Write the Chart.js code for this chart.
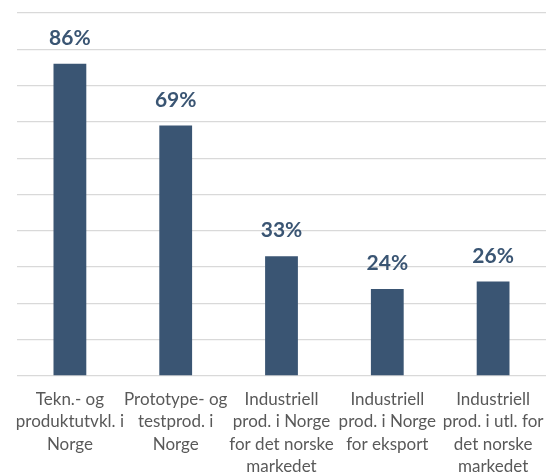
<!DOCTYPE html>
<html>
<head>
<meta charset="utf-8">
<script src="https://cdn.jsdelivr.net/npm/chart.js@4/dist/chart.umd.min.js"></script>
<style>
  html, body { margin: 0; padding: 0; background: #ffffff; }
  #wrap { width: 548px; height: 475px; }
</style>
</head>
<body>
<div id="wrap"><canvas id="c" width="548" height="475"></canvas></div>
<script>
// Categories, one array of lines per bar label
const categories = [
  ['Tekn.- og', 'produktutvkl. i', 'Norge'],
  ['Prototype- og', 'testprod. i', 'Norge'],
  ['Industriell', 'prod. i Norge', 'for det norske', 'markedet'],
  ['Industriell', 'prod. i Norge', 'for eksport'],
  ['Industriell', 'prod. i utl. for', 'det norske', 'markedet']
];
// Share of respondents, percent
const shares = [86, 69, 33, 24, 26];
const valueLabels = ['86%', '69%', '33%', '24%', '26%'];

const barColor = '#3A5573';
const gridColor = '#D9D9D9';

// Draws the percentage above each bar
const valueLabelPlugin = {
  id: 'valueLabels',
  afterDatasetsDraw(chart) {
    const ctx = chart.ctx;
    const meta = chart.getDatasetMeta(0);
    ctx.save();
    ctx.fillStyle = barColor;
    ctx.font = 'bold 21px Lato, "Open Sans", sans-serif';
    ctx.textAlign = 'center';
    ctx.textBaseline = 'alphabetic';
    meta.data.forEach((bar, i) => {
      ctx.fillText(valueLabels[i], bar.x, bar.y - 19);
    });
    ctx.restore();
  }
};

new Chart(document.getElementById('c'), {
  type: 'bar',
  data: {
    labels: categories,
    datasets: [{
      data: shares,
      backgroundColor: barColor,
      borderWidth: 0,
      barPercentage: 0.5,
      categoryPercentage: 0.62
    }]
  },
  options: {
    responsive: false,
    animation: false,
    events: [],
    layout: { padding: { left: 17, right: 2, top: 13, bottom: 0 } },
    plugins: { legend: { display: false }, tooltip: { enabled: false } },
    scales: {
      x: {
        grid: { display: false },
        border: { display: false },
        ticks: {
          color: '#595959',
          font: { family: 'Lato, "Open Sans", sans-serif', size: 17, lineHeight: 1.32 },
          padding: 4,
          maxRotation: 0,
          autoSkip: false
        },
        afterFit(scale) { scale.height = 99; }
      },
      y: {
        min: 0,
        max: 100,
        ticks: { stepSize: 10, display: false },
        grid: { color: gridColor, lineWidth: 1.3, drawTicks: false },
        border: { display: false },
        afterFit(scale) { scale.width = 0; }
      }
    }
  },
  plugins: [valueLabelPlugin]
});
</script>
</body>
</html>
